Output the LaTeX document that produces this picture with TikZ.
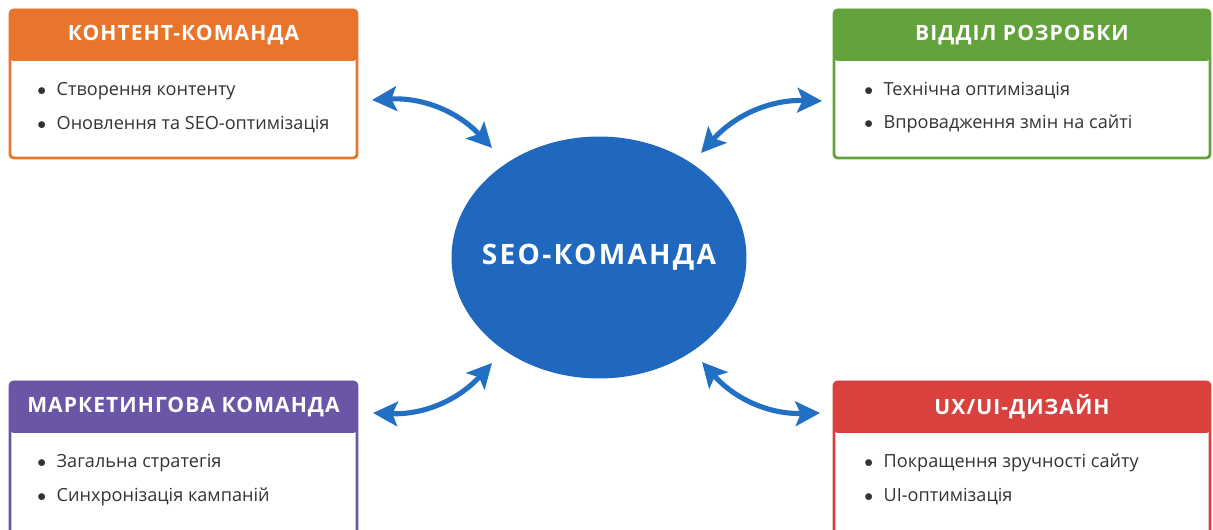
\documentclass[tikz,border=0pt]{standalone}
\usepackage{fontspec}
\setmainfont{Open Sans}
\newfontfamily\headfont{Open Sans}[LetterSpace=5]
\newfontfamily\seofont{Open Sans}[LetterSpace=8]
\usetikzlibrary{shapes.geometric,arrows.meta}
\definecolor{korange}{HTML}{E8752B}
\definecolor{kgreen}{HTML}{62A23A}
\definecolor{kpurple}{HTML}{6A55A7}
\definecolor{kred}{HTML}{D8413D}
\definecolor{kblue}{HTML}{1F68BE}
\definecolor{karrow}{HTML}{2170C4}
\definecolor{ktext}{HTML}{333333}
\newcommand{\itm}{$\bullet$\hspace{6pt}}
\tikzset{
  card/.style={draw=#1, fill=white, line width=1.6pt, rounded corners=2pt,
    minimum height=2.96cm, inner sep=0pt},
  cardhead/.style={fill=#1, rounded corners=2pt, minimum height=1.04cm,
    inner sep=0pt, anchor=north, text=white,
    font=\headfont\bfseries\fontsize{12}{14}\selectfont},
  item/.style={anchor=west, inner sep=0pt, text=ktext,
    font=\fontsize{10.3}{12}\selectfont},
  seo/.style={ellipse, fill=kblue, minimum width=5.9cm, minimum height=4.84cm,
    inner sep=0pt},
  seotext/.style={inner sep=0pt, text=white,
    font=\seofont\bfseries\fontsize{16}{18}\selectfont},
  link/.style={draw=karrow, line width=2.9pt,
    {Stealth[length=14pt,width=14pt,inset=3pt]}-{Stealth[length=14pt,width=14pt,inset=3pt]}},
}
\begin{document}
\begin{tikzpicture}[x=0.02cm,y=-0.02cm]
  \fill[white] (0,0) rectangle (1213,530);
  \useasboundingbox (0,0) rectangle (1213,530);
  \clip (0,0) rectangle (1213,530);

  \node[card=korange, minimum width=6.94cm] (kont) at (183.5,84) {};
  \node[cardhead=korange, minimum width=6.94cm] (kont-t) at (kont.north) {КОНТЕНТ-КОМАНДА};
  \node[item] (kont-a) at (37,91) {\itm Створення контенту};
  \node[item] (kont-b) at (37,125) {\itm Оновлення та SEO-оптимізація};

  \node[card=kgreen, minimum width=7.52cm] (rozr) at (1022,84) {};
  \node[cardhead=kgreen, minimum width=7.52cm] (rozr-t) at (rozr.north) {ВІДДІЛ РОЗРОБКИ};
  \node[item] (rozr-a) at (864,91) {\itm Технічна оптимізація};
  \node[item] (rozr-b) at (864,124) {\itm Впровадження змін на сайті};

  \node[card=kpurple, minimum width=6.94cm, minimum height=3.3cm] (mark) at (183.5,464.5) {};
  \node[cardhead=kpurple, minimum width=6.94cm] (mark-t) at (mark.north) {МАРКЕТИНГОВА КОМАНДА};
  \node[item] (mark-a) at (37,463) {\itm Загальна стратегія};
  \node[item] (mark-b) at (37,497) {\itm Синхронізація кампаній};

  \node[card=kred, minimum width=7.52cm, minimum height=3.3cm] (ux) at (1022,464.5) {};
  \node[cardhead=kred, minimum width=7.52cm] (ux-t) at (ux.north) {UX/UI-ДИЗАЙН};
  \node[item] (ux-a) at (864,463) {\itm Покращення зручності сайту};
  \node[item] (ux-b) at (864,497) {\itm UI-оптимізація};

  \node[seo] (seo) at (599,257.5) {};
  \node[seotext] (seo-t) at (seo.center) {SEO-КОМАНДА};

  \coordinate (kont-e) at (372,100);
  \coordinate (seo-nw) at (492,148);
  \coordinate (seo-ne) at (701,153);
  \coordinate (rozr-w) at (822,101);
  \coordinate (mark-e) at (373,413);
  \coordinate (seo-sw) at (492,363);
  \coordinate (seo-se) at (702,362);
  \coordinate (ux-w) at (820,413);

  \draw[link] (kont-e) to[bend left=25] (seo-nw);
  \draw[link] (seo-ne) to[bend left=25] (rozr-w);
  \draw[link] (mark-e) to[bend right=25] (seo-sw);
  \draw[link] (seo-se) to[bend right=25] (ux-w);
\end{tikzpicture}
\end{document}
